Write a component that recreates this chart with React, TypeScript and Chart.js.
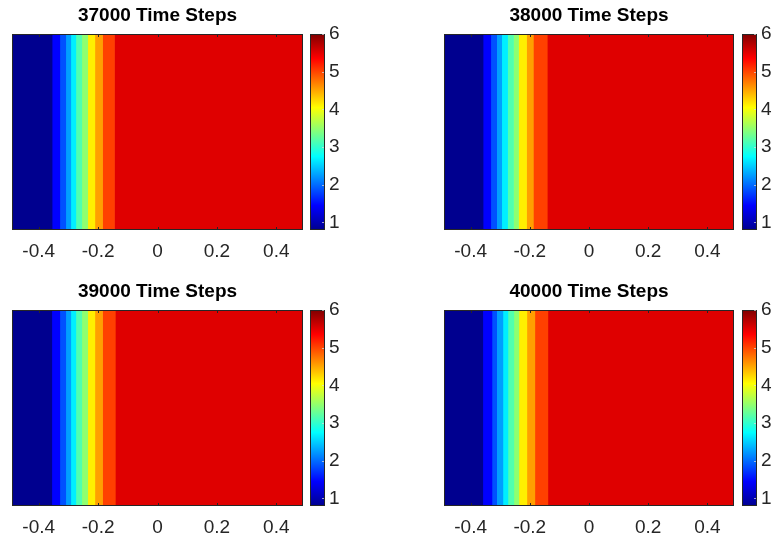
import React, { useEffect, useRef } from "react";
import { Chart, registerables } from "chart.js";
Chart.register(...registerables);

// ---------- data ----------
const panelTitles = ["37000 Time Steps", "38000 Time Steps", "39000 Time Steps", "40000 Time Steps"];
const xTickValues = [-0.4, -0.2, 0, 0.2, 0.4];
const xMin = -0.49;
const xMax = 0.49;
const colorTickValues = [1, 2, 3, 4, 5, 6];
const cMin = 0.8;
const cMax = 6;

// value of each vertical band (left to right)
const bandValues37000 = [0.84, 1.41, 1.81, 2.22, 2.63, 3.11, 3.44, 4.09, 4.5, 4.99, 5.47];
const bandValues38000 = [0.84, 1.41, 1.81, 2.22, 2.63, 3.11, 3.44, 4.09, 4.5, 4.99, 5.47];
const bandValues39000 = [0.84, 1.41, 1.81, 2.22, 2.63, 3.11, 3.44, 4.09, 4.5, 4.99, 5.47];
const bandValues40000 = [0.84, 1.41, 1.81, 2.22, 2.63, 3.11, 3.44, 4.09, 4.5, 4.99, 5.47];

// band edges along x
const edges37000 = [-0.49, -0.355, -0.329, -0.309, -0.292, -0.275, -0.255, -0.235, -0.211, -0.185, -0.145, 0.49];
const edges38000 = [-0.49, -0.358, -0.332, -0.312, -0.295, -0.275, -0.255, -0.238, -0.211, -0.188, -0.141, 0.49];
const edges39000 = [-0.49, -0.356, -0.329, -0.309, -0.292, -0.275, -0.255, -0.235, -0.211, -0.185, -0.142, 0.49];
const edges40000 = [-0.49, -0.359, -0.328, -0.312, -0.291, -0.274, -0.254, -0.237, -0.21, -0.183, -0.139, 0.49];

const allEdges = [edges37000, edges38000, edges39000, edges40000];
const allValues = [bandValues37000, bandValues38000, bandValues39000, bandValues40000];

// ---------- colour map (MATLAB jet, 64 levels) ----------
const clamp01 = (v: number) => Math.max(0, Math.min(1, v));
function jetRGB(t: number): [number, number, number] {
  const r = clamp01(1.5 - Math.abs(4 * t - 3));
  const g = clamp01(1.5 - Math.abs(4 * t - 2));
  const b = clamp01(1.5 - Math.abs(4 * t - 1));
  return [r, g, b];
}
const rgbStr = (c: [number, number, number]) =>
  `rgb(${Math.round(c[0] * 255)},${Math.round(c[1] * 255)},${Math.round(c[2] * 255)})`;
function valueColor(v: number) {
  const t = (v - cMin) / (cMax - cMin);
  const idx = Math.min(64, Math.max(1, Math.floor(t * 64) + 1));
  return rgbStr(jetRGB(idx / 64));
}

const AXIS_COLOR = "#262626";
const TICK_FONT = { family: '"Liberation Sans", Arial, Helvetica, sans-serif', size: 19 };
const TITLE_FONT = {
  family: '"Liberation Sans", Arial, Helvetica, sans-serif',
  size: 19,
  weight: "bold" as const,
  lineHeight: 1.2,
};

const heatFramePlugin = {
  id: "heatFrame",
  afterDraw(chart: any) {
    const { ctx, chartArea: a } = chart;
    const xs = chart.scales.x;
    ctx.save();
    ctx.strokeStyle = AXIS_COLOR;
    ctx.lineWidth = 1;
    ctx.strokeRect(a.left + 0.5, a.top + 0.5, a.right - a.left - 1, a.bottom - a.top - 1);
    ctx.beginPath();
    for (const v of xTickValues) {
      const px = Math.round(xs.getPixelForValue(v)) + 0.5;
      ctx.moveTo(px, a.top);
      ctx.lineTo(px, a.top + 3);
      ctx.moveTo(px, a.bottom);
      ctx.lineTo(px, a.bottom - 3);
    }
    ctx.stroke();
    ctx.restore();
  },
};

const cbFramePlugin = {
  id: "cbFrame",
  afterDraw(chart: any) {
    const { ctx, chartArea: a } = chart;
    const ys = chart.scales.y;
    ctx.save();
    ctx.strokeStyle = AXIS_COLOR;
    ctx.lineWidth = 1;
    ctx.strokeRect(a.left + 0.5, a.top + 0.5, a.right - a.left - 1, a.bottom - a.top - 1);
    ctx.strokeStyle = "rgba(220,220,220,0.7)";
    ctx.beginPath();
    for (const v of colorTickValues) {
      const py = Math.round(ys.getPixelForValue(v)) + 0.5;
      ctx.moveTo(a.right - 1, py);
      ctx.lineTo(a.right - 3, py);
    }
    ctx.stroke();
    ctx.restore();
  },
};

type PanelProps = {
  index: number;
  left: number;
  top: number;
  padLeft: number;
  padRight: number;
  heatWidth: number;
  cbLeft: number;
};

const HEAT_H = 270;
const CB_W = 41;

function Panel({ index, left, top, padLeft, padRight, heatWidth, cbLeft }: PanelProps) {
  const heatRef = useRef<HTMLCanvasElement | null>(null);
  const cbRef = useRef<HTMLCanvasElement | null>(null);

  useEffect(() => {
    const edges = allEdges[index];
    const values = allValues[index];
    const heat = new Chart(heatRef.current!, {
      type: "bar",
      data: {
        labels: ["row"],
        datasets: values.map((v, i) => ({
          data: [[edges[i], edges[i + 1]]] as any,
          backgroundColor: valueColor(v),
          borderWidth: 0,
          barPercentage: 1,
          categoryPercentage: 1,
          grouped: false,
        })),
      },
      options: {
        indexAxis: "y",
        animation: false,
        responsive: false,
        devicePixelRatio: 1,
        events: [],
        layout: { padding: { left: padLeft, right: padRight, top: 0, bottom: 0 } },
        plugins: {
          legend: { display: false },
          tooltip: { enabled: false },
          title: {
            display: true,
            text: panelTitles[index],
            color: "#000",
            font: TITLE_FONT,
            padding: { top: 4, bottom: 7.2 },
          },
        },
        scales: {
          x: {
            type: "linear",
            min: xMin,
            max: xMax,
            afterBuildTicks: (s: any) => {
              s.ticks = xTickValues.map((v) => ({ value: v }));
            },
            afterFit: (s: any) => {
              s.height = 40;
            },
            ticks: {
              font: TICK_FONT,
              color: AXIS_COLOR,
              padding: 10,
              maxRotation: 0,
              autoSkip: false,
              callback: (v: any) => String(Math.round(Number(v) * 10) / 10),
            },
            grid: { display: false, drawTicks: false },
            border: { display: false },
          },
          y: { display: false },
        },
      } as any,
      plugins: [heatFramePlugin],
    });

    const cb = new Chart(cbRef.current!, {
      type: "bar",
      data: {
        labels: ["c"],
        datasets: [
          {
            data: [[cMin, cMax]] as any,
            backgroundColor: (c: any) => {
              const ch = c.chart;
              if (!ch.chartArea) return "rgba(0,0,0,0)";
              const ys = ch.scales.y;
              const y0 = ys.getPixelForValue(cMin);
              const y1 = ys.getPixelForValue(cMax);
              const g = ch.ctx.createLinearGradient(0, y0, 0, y1);
              const stops = [0, 0.125, 0.375, 0.625, 0.875, 1];
              for (const s of stops) g.addColorStop(s, rgbStr(jetRGB(Math.max(s, 1 / 64))));
              return g;
            },
            borderWidth: 0,
            barPercentage: 1,
            categoryPercentage: 1,
          },
        ],
      },
      options: {
        animation: false,
        responsive: false,
        devicePixelRatio: 1,
        events: [],
        layout: { padding: { left: 6, right: 0, top: 34, bottom: 40 } },
        plugins: { legend: { display: false }, tooltip: { enabled: false } },
        scales: {
          x: { display: false },
          y: {
            position: "right",
            min: cMin,
            max: cMax,
            afterBuildTicks: (s: any) => {
              s.ticks = colorTickValues.map((v) => ({ value: v }));
            },
            afterFit: (s: any) => {
              s.width = 20;
            },
            ticks: { font: TICK_FONT, color: AXIS_COLOR, padding: 4, autoSkip: false },
            grid: { display: false, drawTicks: false },
            border: { display: false },
          },
        },
      } as any,
      plugins: [cbFramePlugin],
    });

    return () => {
      heat.destroy();
      cb.destroy();
    };
  }, [index, padLeft, padRight]);

  return (
    <>
      <canvas
        ref={heatRef}
        width={heatWidth}
        height={HEAT_H}
        style={{ position: "absolute", left, top, width: heatWidth, height: HEAT_H }}
      />
      <canvas
        ref={cbRef}
        width={CB_W}
        height={HEAT_H}
        style={{ position: "absolute", left: cbLeft, top, width: CB_W, height: HEAT_H }}
      />
    </>
  );
}

export default function App() {
  return (
    <div
      style={{
        position: "fixed",
        left: 0,
        top: 0,
        width: 776,
        height: 541,
        background: "#fff",
        overflow: "hidden",
      }}
    >
      <Panel index={0} left={0} top={0} padLeft={12} padRight={6} heatWidth={309} cbLeft={304} />
      <Panel index={1} left={432} top={0} padLeft={12} padRight={7} heatWidth={309} cbLeft={736} />
      <Panel index={2} left={0} top={276} padLeft={12} padRight={6} heatWidth={309} cbLeft={304} />
      <Panel index={3} left={432} top={276} padLeft={12} padRight={7} heatWidth={309} cbLeft={736} />
    </div>
  );
}
